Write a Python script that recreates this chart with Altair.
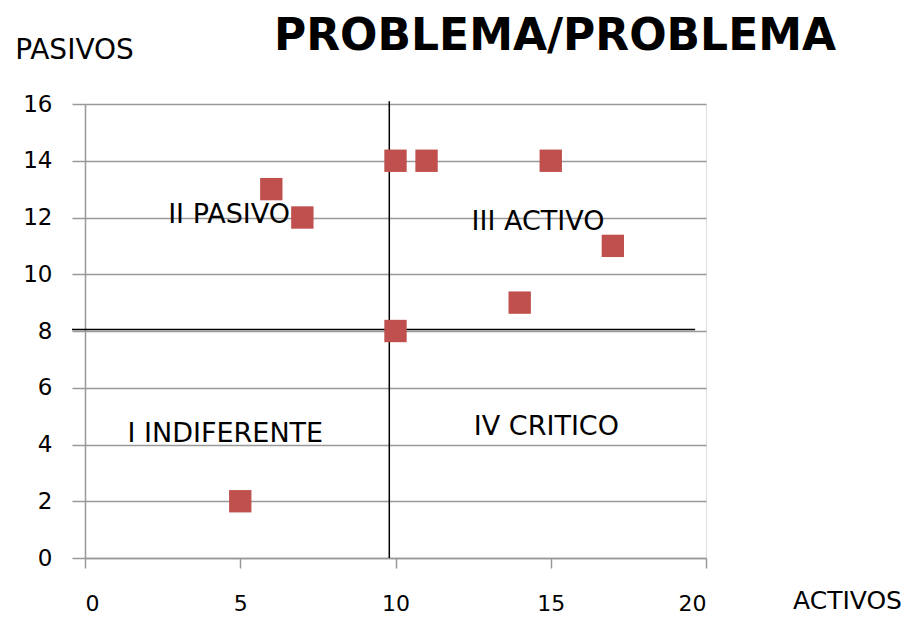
import altair as alt
import pandas as pd

activos = [5, 6, 7, 10, 11, 15, 17, 14, 10]
pasivos = [2, 13, 12, 14, 14, 14, 11, 9, 8]

quad_labels = ["II PASIVO", "III ACTIVO", "I INDIFERENTE", "IV CRITICO"]
quad_x = [4.64, 14.59, 4.52, 14.86]
quad_y = [11.81, 11.55, 4.09, 4.33]

vline_x = 9.8
hline_y = 8.05
hline_x0 = -0.42
hline_x1 = 19.65

FONT = "DejaVu Sans"

pts = pd.DataFrame({"x": activos, "y": pasivos})
labs = pd.DataFrame({"t": quad_labels, "x": quad_x, "y": quad_y})

xs = alt.Scale(domain=[0, 20], nice=False, zero=True)
ys = alt.Scale(domain=[0, 16], nice=False, zero=True)

xaxis = alt.Axis(values=[0, 5, 10, 15, 20], grid=False, tickSize=10, tickColor="#999999",
                 tickWidth=1.5, domainColor="#999999", domainWidth=1.5,
                 labelPadding=25, labelFontSize=22, labelFont=FONT, labelColor="#000000",
                 title="ACTIVOS", titleFont=FONT, titleFontSize=25, titleFontWeight="normal",
                 titleX=762, titleY=50, titleAlign="center", titleBaseline="alphabetic",
                 titleAngle=0)
yaxis = alt.Axis(values=list(range(0, 17, 2)), grid=True, gridColor="#999999", gridWidth=1.5,
                 tickSize=13, tickColor="#999999", tickWidth=1.5, domainColor="#999999",
                 domainWidth=1.5, labelPadding=20, labelFontSize=23, labelFont=FONT,
                 labelColor="#000000",
                 title="PASIVOS", titleFont=FONT, titleFontSize=28, titleFontWeight="normal",
                 titleX=-11, titleY=-46, titleAlign="center", titleBaseline="alphabetic",
                 titleAngle=0)

points = alt.Chart(pts).mark_square(size=500, color="#C0504D", opacity=1).encode(
    x=alt.X("x:Q", scale=xs, axis=xaxis),
    y=alt.Y("y:Q", scale=ys, axis=yaxis),
)

vline = alt.Chart(pd.DataFrame({"x": [vline_x], "y": [0], "y2": [16.1]})).mark_rule(
    color="#000000", strokeWidth=1.5, clip=False).encode(
    x=alt.X("x:Q", scale=xs), y=alt.Y("y:Q", scale=ys), y2="y2:Q")

hline = alt.Chart(pd.DataFrame({"x": [hline_x0], "x2": [hline_x1], "y": [hline_y]})).mark_rule(
    color="#000000", strokeWidth=1.5, clip=False).encode(
    x=alt.X("x:Q", scale=xs), x2="x2:Q", y=alt.Y("y:Q", scale=ys))

texts = alt.Chart(labs).mark_text(font=FONT, fontSize=27, color="#000000",
                                  align="center", baseline="alphabetic").encode(
    x=alt.X("x:Q", scale=xs), y=alt.Y("y:Q", scale=ys), text="t:N")

title = alt.Chart(pd.DataFrame({"t": ["PROBLEMA/PROBLEMA"]})).mark_text(
    font=FONT, fontSize=44, fontWeight="bold", color="#000000",
    align="center", baseline="alphabetic").encode(
    x=alt.value(470), y=alt.value(-54), text="t:N")

chart = alt.layer(vline, hline, points, texts, title).properties(
    width=621, height=454,
    autosize=alt.AutoSizeParams(type="none"),
    padding={"left": 77, "top": 96, "right": 204, "bottom": 59},
).configure_view(stroke=None).configure(background="#ffffff")

chart.save("out.html", embed_options={"renderer": "svg", "actions": False})
